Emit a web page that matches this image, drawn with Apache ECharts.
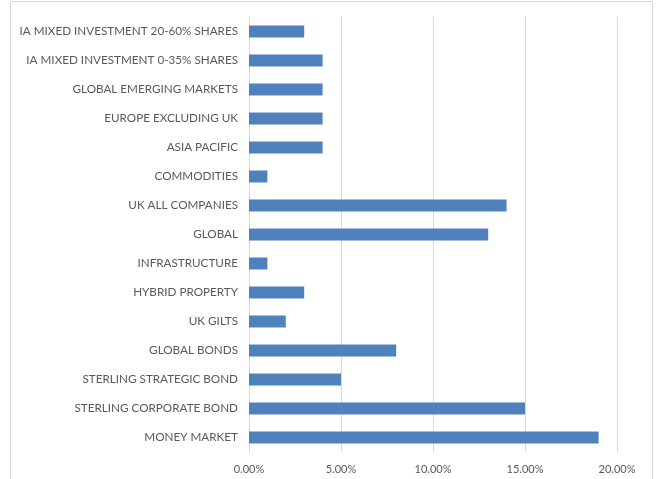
<!DOCTYPE html>
<html>
<head>
<meta charset="utf-8">
<script src="https://cdn.jsdelivr.net/npm/echarts@6/dist/echarts.min.js"></script>
<style>
  html, body { margin: 0; padding: 0; background: #fff; }
  #main { width: 656px; height: 479px; }
</style>
</head>
<body>
<div id="main"></div>
<script>
// categories listed bottom to top
var categories = [
  'MONEY MARKET',
  'STERLING CORPORATE BOND',
  'STERLING STRATEGIC BOND',
  'GLOBAL BONDS',
  'UK GILTS',
  'HYBRID PROPERTY',
  'INFRASTRUCTURE',
  'GLOBAL',
  'UK ALL COMPANIES',
  'COMMODITIES',
  'ASIA PACIFIC',
  'EUROPE EXCLUDING UK',
  'GLOBAL EMERGING MARKETS',
  'IA MIXED INVESTMENT 0-35% SHARES',
  'IA MIXED INVESTMENT 20-60% SHARES'
];
var weights = [19, 15, 5, 8, 2, 3, 1, 13, 14, 1, 4, 4, 4, 4, 3];

var myChart = echarts.init(document.getElementById('main'));
var option = {
  animation: false,
  textStyle: { fontFamily: 'Lato' },
  graphic: [{
    type: 'rect',
    shape: { x: 10.5, y: 1.5, width: 642, height: 500 },
    style: { fill: 'none', stroke: '#d9d9d9', lineWidth: 1 }
  }],
  grid: { left: 249, right: 39, top: 17, bottom: 27 },
  xAxis: {
    type: 'value',
    min: 0,
    max: 20,
    interval: 5,
    axisLine: { show: false },
    axisTick: { show: false },
    splitLine: { lineStyle: { color: '#d9d9d9' } },
    axisLabel: {
      color: '#595959',
      fontSize: 11,
      margin: 12,
      formatter: function (v) { return v.toFixed(2) + '%'; }
    }
  },
  yAxis: {
    type: 'category',
    data: categories,
    axisLine: { lineStyle: { color: '#d9d9d9' } },
    axisTick: { show: false },
    axisLabel: { color: '#595959', fontSize: 11.7, margin: 11 }
  },
  series: [{
    type: 'bar',
    data: weights,
    barWidth: 12,
    itemStyle: { color: '#4f81bd' }
  }]
};
myChart.setOption(option);
</script>
</body>
</html>
